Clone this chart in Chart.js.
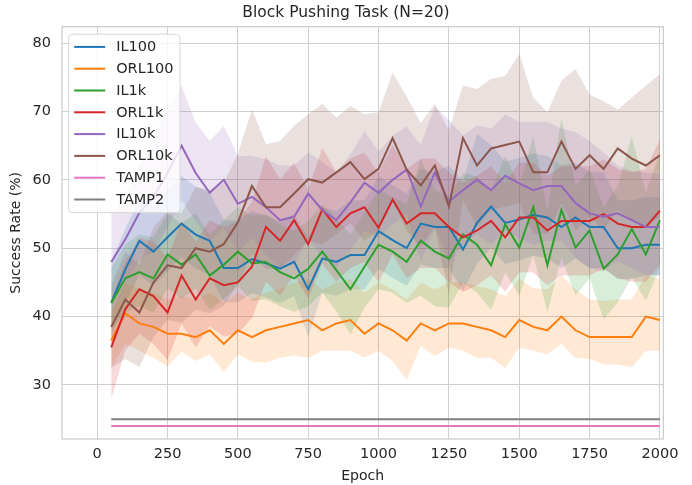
<!DOCTYPE html>
<html>
<head>
<meta charset="utf-8">
<script src="https://cdn.jsdelivr.net/npm/chart.js@4.4.0/dist/chart.umd.min.js"></script>
<style>
  html, body { margin: 0; padding: 0; background: #fff; }
  #wrap { width: 692px; height: 485px; }
</style>
</head>
<body>
<div id="wrap"><canvas id="plot"></canvas></div>
<script>
// Block pushing - success rate per epoch

const epochs = [50,100,150,200,250,300,350,400,450,500,550,600,650,700,750,800,850,900,950,1000,
  1050,1100,1150,1200,1250,1300,1350,1400,1450,1500,1550,1600,1650,1700,1750,1800,1850,1900,1950,2000];
const xTicks = [0,250,500,750,1000,1250,1500,1750,2000];
const yTicks = [30,40,50,60,70,80];

// mean lines
const il100 = [42,46.9,51.1,49.5,51.6,53.6,52,51.1,47.1,47.1,48.4,47.8,47,48,44,48.5,48,49,49,52.5,
  51.2,50,53.6,53.1,53.1,49.8,53.7,56.1,53.7,54.2,54.9,54.5,53.1,54.5,53.1,53.1,50,50,50.5,50.5];
const orl100 = [36.5,40.5,39,38.5,37.5,37.5,37,38,36,38,37,38,38.5,39,39.5,38,39,39.5,37.5,39,
  38,36.5,39,38,39,39,38.5,38,37,39.5,38.5,38,40,38,37,37,37,37,40,39.5];
const il1k = [42,45.6,46.5,45.6,49.1,47.6,49.1,46,47.6,49.5,47.8,48,46.5,45.6,47,49.5,46.8,44,47.3,50.5,
  49.5,48,51.1,49.5,48.5,52,50.5,47.5,53.5,50.1,56,47.5,55.6,50.1,52.6,47,49.1,52.8,49.1,54.1];
const orl1k = [35.5,41.1,44,43,40.6,46,42.5,45.6,44.6,45,47.3,53.1,51.1,54.1,50.6,55.7,53.1,55.1,56,53,
  57.1,53.6,55.1,55.1,53.1,51.6,52.6,54,51.6,54.5,54.5,52.6,54,54,54,55,53.6,53.1,53.1,55.5];
const il10k = [48,51.3,55.2,57.5,61,65,61,58.1,60,56.5,57.5,56,54.1,54.6,58,55.6,54.1,56.7,59.6,58.1,
  60,61.5,56.1,61.1,56.8,58.5,60,58.5,60.6,59.5,58.5,59.1,59.1,56.6,55.1,54.6,55.1,54.1,53.1,53.1];
const orl10k = [38.5,42.5,40.6,45,47.5,47.1,50,49.5,50.6,53.8,59.1,56,56,58,60.1,59.6,61.1,62.6,60.1,61.6,
  66.1,61.5,59.2,62.1,56.1,66.1,62.1,64.6,65.1,65.6,61.1,61.1,65.6,61.6,63.6,61.6,64.6,63.1,62.1,63.6];
const tamp1 = [24,24,24,24,24,24,24,24,24,24,24,24,24,24,24,24,24,24,24,24,
  24,24,24,24,24,24,24,24,24,24,24,24,24,24,24,24,24,24,24,24];
const tamp2 = [25,25,25,25,25,25,25,25,25,25,25,25,25,25,25,25,25,25,25,25,
  25,25,25,25,25,25,25,25,25,25,25,25,25,25,25,25,25,25,25,25];

// band widths above / below the mean
const il100Up = [6,6,6,6.5,7,7,7,7,7,7,7,7,7,7,7.5,7.5,7.5,8,8,8,8,8,8,8,9,10,13,9,9,9,9,9,9,8,8,8,7,7,7,7];
const il100Down = [5,5,5,5,5,5,5,5,5,5,5,5,5,5,7,5,5,5,5,5.5,5.5,5.5,6,6,6,6,6,6,6,6,6,6,6,6,6,6,4.5,4.5,4.5,4.5];
const orl100Up = [4,4.5,5,5,5,5.5,5.5,5.5,6,5.5,5.5,5.5,5.5,6,6,6,6,6,6,6,6,6,6,6,6,6,6,6,6,6,5.7,6,6,6,5.5,5.3,5.5,5.5,6,6];
const orl100Down = [4,4.5,4,4.5,4.8,2.6,3.5,3.5,4.1,3.5,3.6,4.7,4.5,4.7,5.5,3,4,4.5,3.5,4,4.5,5.7,3.3,3.8,3.5,4,4.5,4,4.5,4,3.5,3.5,4,4,3.2,4,4,4.4,5,4.5];
const il1kUp = [5,5,5.5,6,6,6,6,6,6.5,6.5,7,7,7,7,7,7,7.5,8,8,8,8,8.5,12,9,9,9,10,11,10,9,10.4,8,13.5,9,9,9,10,13.6,9,10];
const il1kDown = [4,5,5,5,5,5,5,5,5,5,5.5,5.5,5,4.9,5.5,6,6,6.6,6,6.5,6,6,8,8,7.2,7,7,6.5,7,7,7,6.9,7,7,7,7.4,7,7,6.8,7];
const orl1kUp = [7,7,7.5,8,8,8,8.5,8.5,8.5,9,9.5,10.4,9,8.4,8,9,8,8,8,8,8,8,8,8,8,8,8,8,8,8,8,8,8,8,8,8,8,8,8.5,10.4];
const orl1kDown = [7.6,6,6.5,7,7,7,7,7,7.5,7.5,7.5,8,8,8,8,8,8,8,8,8,8,8,8,8,8,8,8,8,8,8,8,8,8,8,8,8,8,8,8,8];
const il10kUp = [7,6.5,7,8.8,9.4,8.8,7.4,7.6,7.9,7,6,7,8,7.5,6,7,7,7,7.5,6,6.5,6.3,9,9.6,12,8,8,9,9,9,10,9.4,8.4,10.4,10.6,9.4,7,7.2,8,7.7];
const il10kDown = [6,6,7,8,8,8,7,7,7,7,6,7,7,7,6.5,7,7,7,7,6.5,6.5,6.5,8,8,9,8,8,8,8,8,8,8,8,8,8,8,7,7,7,7];
const orl10kUp = [6,7,7,8,8,8,9,9,9,10,11.2,9.2,9.7,9.9,9.5,11.5,8,8.2,9.5,8.3,9.6,10.7,9.1,9,11.2,7.7,11.2,10.2,10.1,12.8,10.9,8.8,8.9,14.6,8.9,9.9,5.7,8.9,11.7,11.9];
const orl10kDown = [6,8.7,8,8,8,8,9,9,9,9,10,9,9,9,9,9,9,9,9,9,9,9,9,9,13,9,9,9,9,9,9,9,9,9,9,9,9,9,9,9];

const series = [
  {label: 'IL100',  color: '#1f77b4', mean: il100,  up: il100Up,  down: il100Down},
  {label: 'ORL100', color: '#ff7f0e', mean: orl100, up: orl100Up, down: orl100Down},
  {label: 'IL1k',   color: '#2ca02c', mean: il1k,   up: il1kUp,   down: il1kDown},
  {label: 'ORL1k',  color: '#d62728', mean: orl1k,  up: orl1kUp,  down: orl1kDown},
  {label: 'IL10k',  color: '#9467bd', mean: il10k,  up: il10kUp,  down: il10kDown},
  {label: 'ORL10k', color: '#8c564b', mean: orl10k, up: orl10kUp, down: orl10kDown},
  {label: 'TAMP1',  color: '#e377c2', mean: tamp1},
  {label: 'TAMP2',  color: '#7f7f7f', mean: tamp2}
];

const TITLE = 'Block Pushing Task (N=20)';
const FONT = "'DejaVu Sans', sans-serif";
const TEXT = '#262626';
const GRID = '#d0d0d0';

function rgba(hex, a) {
  const n = parseInt(hex.slice(1), 16);
  return `rgba(${n >> 16},${(n >> 8) & 255},${n & 255},${a})`;
}
function pts(values) {
  return values.map((v, i) => ({x: epochs[i], y: v}));
}

const datasets = [];
// bands first (drawn below the lines)
series.forEach((s, k) => {
  if (!s.up) return;
  datasets.push({
    label: s.label + ' low', data: pts(s.mean.map((m, i) => m - s.down[i])),
    borderWidth: 0, pointRadius: 0, fill: false, order: 30 - k
  });
  datasets.push({
    label: s.label + ' high', data: pts(s.mean.map((m, i) => m + s.up[i])),
    borderWidth: 0, pointRadius: 0, fill: '-1', backgroundColor: rgba(s.color, 0.18),
    order: 30 - k
  });
});
series.forEach((s, k) => {
  datasets.push({
    label: s.label, data: pts(s.mean), borderColor: s.color, backgroundColor: s.color,
    borderWidth: 2, pointRadius: 0, fill: false, tension: 0, order: 15 - k
  });
});

// title centred on the whole canvas, like matplotlib's suptitle spot
const titleText = {
  id: 'titleText',
  afterDraw(chart) {
    const ctx = chart.ctx;
    ctx.save();
    ctx.font = '15.5px ' + FONT;
    ctx.fillStyle = TEXT;
    ctx.textAlign = 'center';
    ctx.textBaseline = 'middle';
    ctx.fillText(TITLE, chart.width / 2, 12.5);
    ctx.restore();
  }
};

// matplotlib style frame around the axes
const frame = {
  id: 'frame',
  afterDatasetsDraw(chart) {
    const {ctx, chartArea: a} = chart;
    ctx.save();
    ctx.strokeStyle = '#cccccc';
    ctx.lineWidth = 1.25;
    ctx.strokeRect(a.left, a.top, a.right - a.left, a.bottom - a.top);
    ctx.restore();
  }
};

// legend in the upper left corner of the plot
const legendBox = {
  id: 'legendBox',
  afterDraw(chart) {
    const {ctx, chartArea: a} = chart;
    const x0 = a.left + 6.5, y0 = a.top + 7.5, w = 111.5, h = 178.5;
    ctx.save();
    ctx.beginPath();
    ctx.roundRect(x0, y0, w, h, 4);
    ctx.fillStyle = 'rgba(255,255,255,0.8)';
    ctx.fill();
    ctx.strokeStyle = '#d6d6d6';
    ctx.lineWidth = 1;
    ctx.stroke();
    ctx.font = '14.5px ' + FONT;
    ctx.textBaseline = 'middle';
    series.forEach((s, i) => {
      const y = y0 + 12.7 + i * 21.8;
      ctx.strokeStyle = s.color;
      ctx.lineWidth = 2;
      ctx.beginPath();
      ctx.moveTo(x0 + 5.7, y);
      ctx.lineTo(x0 + 36.7, y);
      ctx.stroke();
      ctx.fillStyle = TEXT;
      ctx.fillText(s.label, x0 + 47.7, y + 0.5);
    });
    ctx.restore();
  }
};

new Chart('plot', {
  type: 'line',
  data: {datasets: datasets},
  options: {
    responsive: true,
    maintainAspectRatio: false,
    animation: false,
    layout: {padding: {left: 0, right: 28.7, top: 26.7, bottom: 0}},
    plugins: {
      legend: {display: false},
      tooltip: {enabled: false},
      title: {display: false}
    },
    scales: {
      x: {
        type: 'linear',
        min: -125,
        max: 2012,
        afterBuildTicks: s => { s.ticks = xTicks.map(v => ({value: v})); },
        afterFit: s => { s.height = 46; },
        grid: {color: GRID, drawTicks: false},
        border: {display: false},
        ticks: {color: TEXT, font: {family: FONT, size: 14.5}, padding: 7, maxRotation: 0,
          callback: v => String(v)},
        title: {display: true, text: 'Epoch', color: TEXT, font: {family: FONT, size: 14}, padding: {top: 0, bottom: 0}}
      },
      y: {
        min: 22.1,
        max: 82.4,
        afterBuildTicks: s => { s.ticks = yTicks.map(v => ({value: v})); },
        afterFit: s => { s.width = 62; },
        grid: {color: GRID, drawTicks: false},
        border: {display: false},
        ticks: {color: TEXT, font: {family: FONT, size: 14.5}, padding: 11,
          callback: v => String(v)},
        title: {display: true, text: 'Success Rate (%)', color: TEXT, font: {family: FONT, size: 14}, padding: {top: 8, bottom: 0}}
      }
    }
  },
  plugins: [frame, titleText, legendBox]
});
</script>
</body>
</html>
